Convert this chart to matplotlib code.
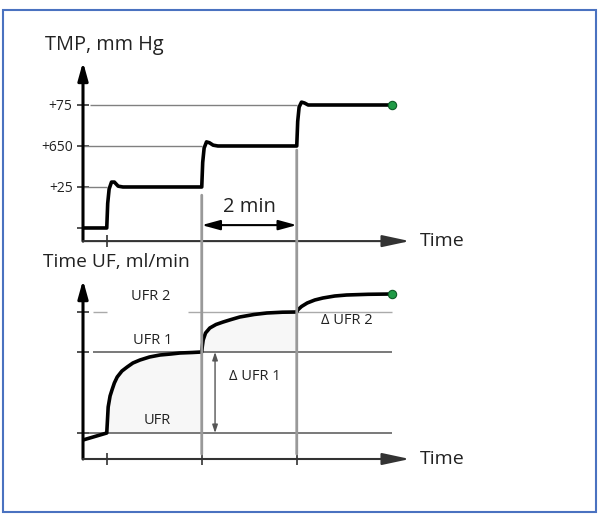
import matplotlib.pyplot as plt
from matplotlib.patches import Rectangle, ConnectionPatch

plt.rcParams['font.family'] = ['Open Sans', 'DejaVu Sans']

# TMP steps (time in min, level index 0..3)
step_times = [0.5, 2.5, 4.5]
tmp_levels = [0, 1, 2, 3]
tmp_labels = ['', '+25', '+650', '+75']

tmp_t = [0, 0.5, 0.52, 0.55, 0.6, 0.66, 0.74, 0.84, 2.5, 2.52, 2.55, 2.6, 2.66, 2.74, 2.84,
         4.5, 4.52, 4.55, 4.6, 4.66, 4.74, 4.84, 6.5]
tmp_v = [0, 0, 0.6, 0.95, 1.12, 1.12, 1.02, 1.0, 1.0, 1.6, 1.95, 2.1, 2.08, 2.02, 2.0,
         2.0, 2.6, 2.95, 3.07, 3.05, 3.0, 3.0, 3.0]

# UF rate (arbitrary units)
ufr, ufr1, ufr2 = 2.6, 10.7, 14.7
uf_t = [0, 0.5, 0.53, 0.57, 0.61, 0.66, 0.72, 0.82, 0.93, 1.05, 1.2, 1.4, 1.62, 1.85, 2.04, 2.3, 2.5,
        2.51, 2.53, 2.58, 2.67, 2.8, 2.95, 3.12, 3.3, 3.6, 3.87, 4.2, 4.5,
        4.52, 4.6, 4.72, 4.88, 5.05, 5.3, 5.55, 6.0, 6.5]
uf_v = [1.9, 2.6, 5.2, 6.3, 6.9, 7.6, 8.2, 8.8, 9.2, 9.6, 9.9, 10.2, 10.4, 10.5, 10.6, 10.65, 10.7,
        11.2, 11.9, 12.6, 13.1, 13.45, 13.7, 13.95, 14.2, 14.45, 14.6, 14.68, 14.7,
        14.9, 15.25, 15.6, 15.9, 16.1, 16.3, 16.4, 16.47, 16.5]

txt = '#222222'
grey = '#808080'

fig = plt.figure(figsize=(6, 5.19), dpi=100)
W, H = 600, 519

ax1 = fig.add_axes([83 / W, (H - 241.1) / H, 332.5 / W, 181.2 / H])
ax2 = fig.add_axes([83 / W, (H - 459) / H, 332.5 / W, 180 / H])

for ax in (ax1, ax2):
    ax.set_xlim(0, 7)
    for s in ax.spines.values():
        s.set_visible(False)
    ax.set_xticks(step_times)
    ax.set_xticklabels([])
    ax.tick_params(direction='inout', length=9, width=1.2, color='#333333',
                   labelsize=10, labelcolor=txt, pad=3)
    ax.patch.set_alpha(0)

ax1.set_ylim(-0.32, 4.1)
ax2.set_ylim(0, 18)

# axes with arrows
arrow_y = dict(arrowstyle='-|>,head_length=0.9,head_width=0.25', lw=2.2, color='black',
               shrinkA=0, shrinkB=0, mutation_scale=12)
arrow_x = dict(arrowstyle='-|>,head_length=1.4,head_width=0.3', lw=1.5, color='#333333',
               shrinkA=0, shrinkB=0, mutation_scale=12)
ax1.annotate('', xy=(0, 4.05), xytext=(0, -0.32), arrowprops=arrow_y, annotation_clip=False)
ax1.annotate('', xy=(6.88, -0.32), xytext=(0, -0.32), arrowprops=arrow_x, annotation_clip=False)
ax2.annotate('', xy=(0, 17.9), xytext=(0, 0), arrowprops=arrow_y, annotation_clip=False)
ax2.annotate('', xy=(6.88, 0), xytext=(0, 0), arrowprops=arrow_x, annotation_clip=False)
ax1.text(7.1, -0.32, 'Time', fontsize=14, color=txt, va='center', ha='left')
ax2.text(7.1, 0, 'Time', fontsize=14, color=txt, va='center', ha='left')

# top panel
ax1.set_yticks(tmp_levels)
ax1.set_yticklabels(tmp_labels)
ax1.hlines(tmp_levels[1], 0, step_times[0], color=grey, lw=1)
ax1.hlines(tmp_levels[2], 0, step_times[1], color=grey, lw=1)
ax1.hlines(tmp_levels[3], 0.15, step_times[2], color=grey, lw=1)
ax1.plot(tmp_t, tmp_v, color='black', lw=2.6, solid_joinstyle='round', solid_capstyle='round')
ax1.plot(tmp_t[-1], tmp_v[-1], 'o', ms=6, color='#1f9a45', mec='#0d5a25', mew=0.8)
ax1.annotate('', xy=(step_times[2], 0.07), xytext=(step_times[1], 0.07),
             arrowprops=dict(arrowstyle='<|-|>,head_length=1.1,head_width=0.3', lw=1.5,
                             color='black', shrinkA=0, shrinkB=0, mutation_scale=10))
ax1.text(3.5, 0.52, '2 min', fontsize=14.5, color=txt, ha='center', va='center')

# bottom panel
ax2.set_yticks([ufr, ufr1, ufr2])
ax2.set_yticklabels([])
seg1 = [i for i, t in enumerate(uf_t) if step_times[0] <= t <= step_times[1]]
seg2 = [i for i, t in enumerate(uf_t) if step_times[1] <= t <= step_times[2]]
ax2.fill_between([uf_t[i] for i in seg1], [uf_v[i] for i in seg1], ufr, color='#f7f7f7', lw=0)
ax2.fill_between([uf_t[i] for i in seg2], [uf_v[i] for i in seg2], ufr1, color='#f7f7f7', lw=0)
ax2.hlines(ufr, 0, 6.5, color='#555555', lw=1.1)
ax2.hlines(ufr1, 0.2, 6.5, color='#555555', lw=1.1)
ax2.hlines(ufr2, 0.2, 0.5, color='#aaaaaa', lw=1)
ax2.hlines(ufr2, 2.2, 6.5, color='#aaaaaa', lw=1)
ax2.plot(uf_t, uf_v, color='black', lw=2.6, solid_joinstyle='round', solid_capstyle='round')
ax2.plot(uf_t[-1], uf_v[-1], 'o', ms=6, color='#1f9a45', mec='#0d5a25', mew=0.8)
ax2.annotate('', xy=(2.78, ufr), xytext=(2.78, ufr1),
             arrowprops=dict(arrowstyle='<|-|>,head_length=0.6,head_width=0.2', lw=1,
                             color='#555555', shrinkA=0, shrinkB=0, mutation_scale=8))
ax2.text(1.42, 16.2, 'UFR 2', fontsize=10.5, color=txt, ha='center', va='center')
ax2.text(1.46, 11.9, 'UFR 1', fontsize=10.5, color=txt, ha='center', va='center')
ax2.text(1.56, 3.9, 'UFR', fontsize=10.5, color=txt, ha='center', va='center')
ax2.text(3.62, 8.2, 'Δ UFR 1', fontsize=10.5, color=txt, ha='center', va='center')
ax2.text(5.56, 13.8, 'Δ UFR 2', fontsize=10.5, color=txt, ha='center', va='center')

# vertical guide lines through both panels
for t0, ystart in zip(step_times[1:], [0.8, 1.9]):
    con = ConnectionPatch((t0, ystart), (t0, 0.5), coordsA=ax1.transData, coordsB=ax2.transData,
                          color='#999999', lw=2)
    fig.add_artist(con)

fig.text(45 / W, 1 - 45 / H, 'TMP, mm Hg', fontsize=14.3, color=txt, va='center', ha='left')
fig.text(43 / W, 1 - 262 / H, 'Time UF, ml/min', fontsize=13.8, color=txt, va='center', ha='left')

fig.add_artist(Rectangle((3 / W, 1 - 512 / H), 593 / W, 502 / H, transform=fig.transFigure,
                         fill=False, edgecolor='#4a72c0', lw=1.5))

fig.savefig('out.png', dpi=100)
